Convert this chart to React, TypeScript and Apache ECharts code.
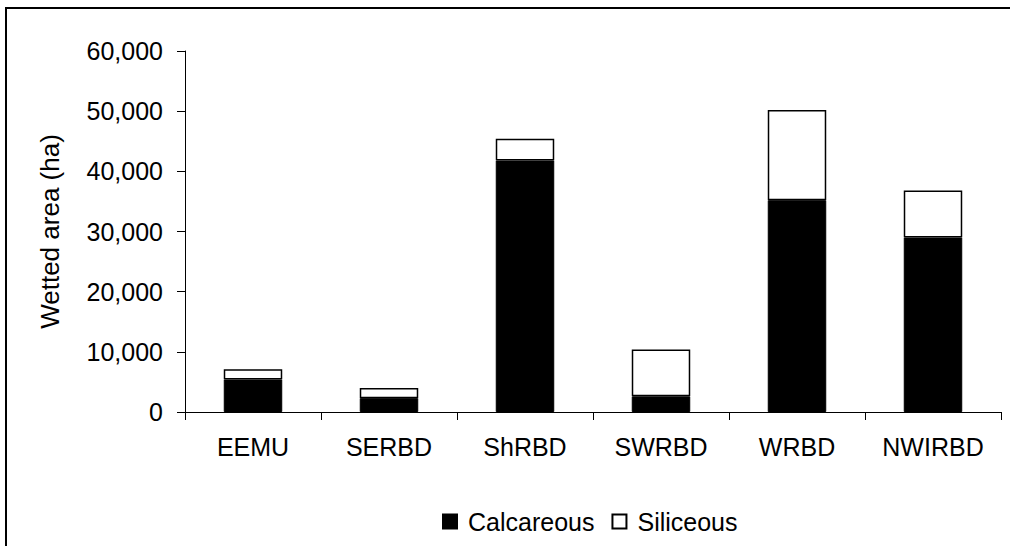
import React, { useEffect, useRef } from "react";
import * as echarts from "echarts";

const categories = ["EEMU", "SERBD", "ShRBD", "SWRBD", "WRBD", "NWIRBD"];
const calcareous = [5400, 2300, 41800, 2600, 35200, 29000];
const siliceous = [1700, 1700, 3600, 7800, 15000, 7800];
const yTicks = [0, 10000, 20000, 30000, 40000, 50000, 60000];

const FONT = "'Liberation Sans', Arial, sans-serif";

function fmt(v: number): string {
  return String(v).replace(/\B(?=(\d{3})+(?!\d))/g, ",");
}

export default function App() {
  const ref = useRef<HTMLDivElement>(null);
  useEffect(() => {
    if (!ref.current) return;
    const chart = echarts.init(ref.current, undefined, { renderer: "svg" });
    chart.setOption({
      animation: false,
      backgroundColor: "#fff",
      textStyle: { fontFamily: FONT, color: "#000" },
      graphic: [
        {
          type: "rect",
          shape: { x: 6, y: 8, width: 1200, height: 700 },
          style: { fill: "none", stroke: "#000", lineWidth: 2 },
          silent: true,
        },
      ],
      legend: {
        left: 437,
        top: 504,
        icon: "rect",
        itemWidth: 14,
        itemHeight: 14,
        itemGap: 17,
        textStyle: { fontFamily: FONT, fontSize: 25, color: "#000", padding: [0, 0, 0, 6] },
        data: ["Calcareous", "Siliceous"],
      },
      grid: { left: 185, top: 51, width: 816, height: 361, containLabel: false },
      xAxis: {
        type: "category",
        data: categories,
        boundaryGap: true,
        axisLine: { lineStyle: { color: "#000", width: 1 } },
        axisTick: { show: true, length: 8, inside: false, lineStyle: { color: "#000" } },
        axisLabel: { fontFamily: FONT, fontSize: 25, color: "#000", margin: 22 },
      },
      yAxis: {
        type: "value",
        min: yTicks[0],
        max: yTicks[yTicks.length - 1],
        interval: yTicks[1] - yTicks[0],
        name: "Wetted area (ha)",
        nameLocation: "middle",
        nameGap: 122,
        nameTextStyle: { fontFamily: FONT, fontSize: 26, color: "#000" },
        splitLine: { show: false },
        axisLine: { show: true, lineStyle: { color: "#000", width: 1 } },
        axisTick: { show: true, length: 8, lineStyle: { color: "#000" } },
        axisLabel: {
          fontFamily: FONT,
          fontSize: 25,
          color: "#000",
          margin: 22,
          formatter: (v: number) => fmt(v),
        },
      },
      series: [
        {
          name: "Calcareous",
          type: "bar",
          stack: "total",
          data: calcareous,
          barCategoryGap: "57%",
          itemStyle: { color: "#000", borderColor: "#000", borderWidth: 1 },
        },
        {
          name: "Siliceous",
          type: "bar",
          stack: "total",
          data: siliceous,
          barCategoryGap: "57%",
          itemStyle: { color: "#fff", borderColor: "#000", borderWidth: 1.5 },
        },
      ],
    });
    return () => chart.dispose();
  }, []);
  return (
    <div
      ref={ref}
      style={{ position: "absolute", left: 0, top: 0, width: 1010, height: 546 }}
    />
  );
}
